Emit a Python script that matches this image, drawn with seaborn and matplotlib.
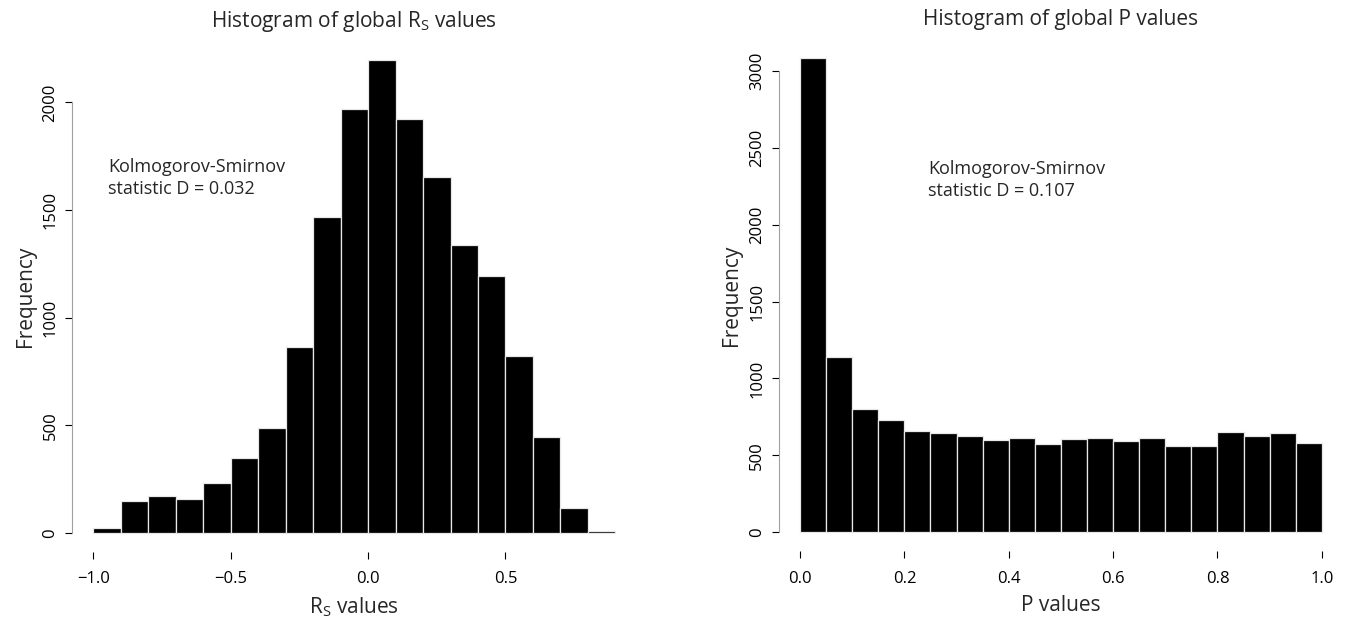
import numpy as np
import pandas as pd
import matplotlib
matplotlib.use("Agg")
import matplotlib.pyplot as plt
import seaborn as sns

# ---- data ----
rs_edges = [-1.0, -0.9, -0.8, -0.7, -0.6, -0.5, -0.4, -0.3, -0.2, -0.1,
            0.0, 0.1, 0.2, 0.3, 0.4, 0.5, 0.6, 0.7, 0.8, 0.9]
rs_counts = [24, 148, 170, 157, 232, 348, 487, 862, 1468, 1967,
             2197, 1923, 1654, 1336, 1192, 822, 447, 115, 8]

p_edges = [0.0, 0.05, 0.1, 0.15, 0.2, 0.25, 0.3, 0.35, 0.4, 0.45, 0.5,
           0.55, 0.6, 0.65, 0.7, 0.75, 0.8, 0.85, 0.9, 0.95, 1.0]
p_counts = [3084, 1138, 802, 733, 658, 643, 628, 602, 615, 576,
            605, 610, 594, 612, 561, 561, 653, 628, 648, 579]

rs_ticks = [-1.0, -0.5, 0.0, 0.5]
rs_ticklabels = ["\u22121.0", "\u22120.5", "0.0", "0.5"]
rs_yticks = [0, 500, 1000, 1500, 2000]
p_ticks = [0.0, 0.2, 0.4, 0.6, 0.8, 1.0]
p_ticklabels = ["0.0", "0.2", "0.4", "0.6", "0.8", "1.0"]
p_yticks = [0, 500, 1000, 1500, 2000, 2500, 3000]

rs_ks = "Kolmogorov-Smirnov\nstatistic D = 0.032"
p_ks = "Kolmogorov-Smirnov\nstatistic D = 0.107"

sns.set_style("white")
plt.rcParams["font.family"] = ["Open Sans", "DejaVu Sans"]
plt.rcParams["mathtext.fontset"] = "custom"
plt.rcParams["mathtext.rm"] = "Open Sans"
plt.rcParams["mathtext.it"] = "Open Sans"

fig = plt.figure(figsize=(13.45, 6.19), dpi=100)
axL = fig.add_axes([0.0538, 0.1082, 0.4193, 0.8256])
axR = fig.add_axes([0.5793, 0.1094, 0.4190, 0.8279])


def centers(edges):
    e = np.asarray(edges)
    return (e[:-1] + e[1:]) / 2


def draw(ax, edges, counts, xticks, xticklabels, yticks, title, xlabel, ks_text, ks_xy):
    df = pd.DataFrame({"x": centers(edges), "w": counts})
    sns.histplot(data=df, x="x", weights="w", bins=edges, ax=ax,
                 color="black", edgecolor="#e8e8e8", linewidth=0.9, alpha=1.0)
    rng = edges[-1] - edges[0]
    ax.set_xlim(edges[0] - 0.04 * rng, edges[-1] + 0.04 * rng)
    ymax = max(counts)
    ax.set_ylim(-0.04 * ymax, 1.04 * ymax)
    for s in ["top", "right"]:
        ax.spines[s].set_visible(False)
    ax.spines["bottom"].set_color("none")
    ax.spines["left"].set_color("#a0a0a0")
    ax.spines["left"].set_linewidth(0.8)
    ax.spines["left"].set_bounds(yticks[0], yticks[-1])
    ax.set_xticks(xticks)
    ax.set_xticklabels(xticklabels)
    ax.set_yticks(yticks)
    ax.set_yticklabels([str(v) for v in yticks], rotation=90, va="center")
    ax.tick_params(axis="both", direction="out", length=5, width=0.8,
                   color="black", labelsize=12, labelcolor="black")
    ax.tick_params(axis="x", pad=9, bottom=True)
    ax.tick_params(axis="y", pad=5, left=True)
    ax.set_title(title, fontsize=15, pad=10)
    ax.set_xlabel(xlabel, fontsize=15, labelpad=6)
    ax.set_ylabel("Frequency", fontsize=15, labelpad=5)
    ax.text(ks_xy[0], ks_xy[1], ks_text, fontsize=13, ha="left", va="center",
            linespacing=1.3)


draw(axL, rs_edges, rs_counts, rs_ticks, rs_ticklabels, rs_yticks,
     r"Histogram of global R$_\mathregular{S}$ values",
     r"R$_\mathregular{S}$ values", rs_ks, (-0.945, 1650))
draw(axR, p_edges, p_counts, p_ticks, p_ticklabels, p_yticks,
     "Histogram of global P values", "P values", p_ks, (0.246, 2292))

fig.savefig("out.png", dpi=100)
